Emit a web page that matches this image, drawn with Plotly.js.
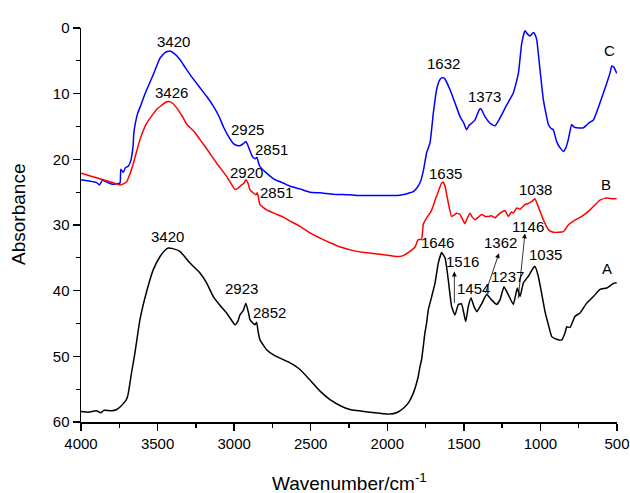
<!DOCTYPE html>
<html>
<head>
<meta charset="utf-8">
<script src="https://cdn.plot.ly/plotly-3.0.1.min.js"></script>
<style>html,body{margin:0;padding:0;background:#fff;}#chart{width:630px;height:493px;}</style>
</head>
<body>
<div id="chart"></div>
<script>
// Sample C (blue)
const wnC = [4000,3950,3900,3880,3860,3820,3790,3760,3745,3740,3725,3710,3690,3675,3660,3655,3645,3630,3610,3590,3571,3530,3484,3450,3420,3390,3354,3320,3288,3223,3180,3136,3100,3071,3040,3005,2980,2960,2940,2925,2915,2900,2880,2862,2851,2840,2831,2788,2740,2681,2635,2570,2505,2439,2354,2250,2200,2113,2000,1939,1900,1852,1830,1808,1785,1765,1743,1721,1699,1678,1660,1645,1632,1623,1590,1558,1525,1500,1482,1465,1449,1427,1410,1395,1385,1362,1329,1297,1264,1220,1177,1144,1122,1101,1085,1068,1046,1035,1024,1003,981,948,930,916,894,870,850,835,818,796,780,763,719,700,686,654,611,567,545,535,520,513,502];
const absC = [23.1,23.3,23.5,23.9,23.2,23.6,23.8,23.7,23.6,21.5,22.0,21.3,21.0,20.2,18.0,16.0,14.5,13.0,11.8,10.5,9.4,7.2,4.6,3.7,3.5,3.9,4.8,6.0,7.1,9.1,10.4,11.9,13.4,15.0,16.4,17.6,17.9,17.9,17.6,17.3,17.6,18.5,19.6,19.9,19.7,20.6,21.1,22.1,23.0,23.6,24.1,24.5,25.0,25.1,25.3,25.4,25.5,25.5,25.5,25.5,25.4,25.1,24.9,24.4,23.5,21.8,19.0,17.5,12.9,9.4,8.0,7.6,7.6,7.8,9.4,11.4,13.5,14.5,15.5,14.8,14.5,14.0,13.0,12.3,12.4,13.5,14.5,14.9,13.7,11.7,9.9,6.9,2.3,0.4,0.9,1.2,0.7,1.0,1.8,6.3,10.9,14.7,15.3,15.5,17.3,18.3,18.8,18.3,17.0,14.7,15.1,15.2,15.2,14.8,14.5,14.0,11.4,8.4,6.8,5.8,6.0,6.3,6.9];

// Sample B (red)
const wnB = [4000,3900,3800,3745,3720,3702,3680,3658,3615,3571,3506,3447,3426,3400,3374,3340,3308,3260,3223,3170,3114,3049,3020,2994,2970,2951,2935,2923,2910,2897,2870,2858,2849,2840,2831,2788,2730,2679,2635,2570,2505,2439,2374,2300,2222,2150,2069,2000,1939,1900,1852,1820,1797,1776,1765,1743,1721,1710,1678,1645,1635,1623,1602,1580,1560,1547,1525,1493,1475,1460,1445,1427,1405,1384,1360,1340,1320,1297,1264,1231,1210,1190,1177,1155,1133,1101,1068,1050,1036,1014,981,948,916,880,850,818,785,730,676,611,567,530,502];
const absB = [22.1,22.8,23.5,23.9,23.7,23.4,22.2,20.6,17.0,14.5,12.4,11.3,11.2,11.5,12.2,13.4,14.7,15.8,17.0,18.7,20.6,22.6,23.7,24.6,24.3,23.9,23.6,23.1,23.6,24.6,25.2,25.4,25.1,26.0,26.9,27.7,28.3,28.8,29.4,30.2,31.2,32.0,32.7,33.4,33.9,34.2,34.4,34.6,34.8,34.7,34.0,33.4,32.2,32.2,29.9,28.9,28.2,27.7,25.6,23.6,23.5,24.1,26.6,28.7,28.4,28.2,28.4,29.8,28.8,28.2,28.8,29.2,28.8,28.4,28.7,28.7,28.6,28.9,28.2,27.8,28.7,28.0,28.2,27.4,27.6,26.9,26.6,26.3,26.0,27.2,29.2,30.7,31.1,31.1,31.0,30.0,29.4,28.7,27.7,26.2,25.9,26.0,26.0];

// Sample A (black)
const wnA = [4000,3950,3900,3870,3850,3800,3767,3740,3713,3700,3691,3670,3648,3615,3571,3528,3484,3450,3430,3400,3354,3288,3223,3180,3136,3090,3049,3020,2994,2975,2962,2940,2923,2905,2897,2875,2864,2853,2843,2831,2788,2735,2679,2635,2570,2505,2439,2374,2300,2243,2113,1982,1940,1895,1860,1830,1800,1786,1776,1754,1743,1732,1710,1688,1667,1645,1623,1602,1580,1558,1536,1515,1488,1471,1453,1434,1415,1384,1351,1319,1286,1264,1238,1210,1177,1151,1133,1111,1079,1046,1036,1014,992,970,948,926,894,861,839,828,807,774,741,698,654,611,567,524,502];
const absA = [58.4,58.5,58.3,58.6,58.2,58.3,58.1,57.6,56.9,56.4,55.6,52.5,49.5,44.4,40.1,36.8,34.8,33.8,33.5,33.6,34.0,35.8,37.3,38.8,40.9,42.3,43.4,44.4,45.2,44.6,43.7,43.0,41.9,43.5,44.4,45.0,45.2,44.8,46.3,47.5,49.0,49.9,50.5,51.0,52.0,53.6,55.3,56.6,57.6,58.1,58.5,58.8,58.6,57.9,57.0,55.6,53.3,51.5,50.5,46.4,44.9,42.9,40.9,38.8,35.8,34.2,35.0,38.3,42.4,43.7,42.1,42.0,44.7,42.4,41.1,42.4,43.2,42.0,40.6,41.4,42.1,41.4,39.4,40.6,42.1,39.6,40.9,38.8,37.8,36.5,36.3,37.8,40.4,43.2,45.2,47.0,47.4,47.5,46.4,45.5,45.6,43.9,43.4,41.9,40.9,39.8,39.6,38.9,38.8];

// Peak labels: text, x (wavenumber), y (absorbance)
const labelText = ['3420','3426','2925','2851','2920','2851','3420','2923','2852','1632','1373','1041','C','1635','1038','B','1646','1516','1454','1362','1237','1146','1035','A'];
const labelX = [3399,3406,2910,2759,2919,2723,3432,2949,2766,1633,1362,1084,552,1623,1029,572,1675,1506,1440,1264,1212,1081,970,565];
const labelY = [2.1,9.85,15.5,18.5,22.0,25.1,31.8,39.7,43.3,5.4,10.5,-1.26,3.46,22.2,24.6,23.9,32.7,35.6,39.7,32.7,37.9,30.3,34.5,36.6];

// Arrows: tail (x0,y0) -> head (x1,y1)
const arrowX0 = [1562,1362,1146];
const arrowY0 = [42.1,40.6,41.4];
const arrowX1 = [1562,1271,1101];
const arrowY1 = [37.1,34.3,31.3];

const FONT = 'Liberation Sans, Arial, sans-serif';

const traces = [
  {x: wnC, y: absC, mode: 'lines', line: {color: '#0000ff', width: 1.5, shape: 'spline', smoothing: 0.4}, name: 'C'},
  {x: wnB, y: absB, mode: 'lines', line: {color: '#ff0000', width: 1.5, shape: 'spline', smoothing: 0.4}, name: 'B'},
  {x: wnA, y: absA, mode: 'lines', line: {color: '#000000', width: 1.5, shape: 'spline', smoothing: 0.4}, name: 'A'}
];

const annotations = [];
for (let i = 0; i < labelText.length; i++) {
  annotations.push({x: labelX[i], y: labelY[i], xref: 'x', yref: 'y', text: labelText[i],
    showarrow: false, xanchor: 'center', yanchor: 'middle', font: {family: FONT, size: 15, color: '#000'}});
}
for (let i = 0; i < arrowX0.length; i++) {
  annotations.push({x: arrowX1[i], y: arrowY1[i], ax: arrowX0[i], ay: arrowY0[i], xref: 'x', yref: 'y',
    axref: 'x', ayref: 'y', text: '', showarrow: true, arrowhead: 2, arrowsize: 1.2, arrowwidth: 0.8,
    arrowcolor: '#000', standoff: 0, startstandoff: 0});
}
annotations.push({xref: 'paper', yref: 'paper', x: 0.5, y: -0.152, text: 'Wavenumber/cm<sup>-1</sup>',
  showarrow: false, xanchor: 'center', yanchor: 'middle', font: {family: FONT, size: 19, color: '#000'}});
annotations.push({xref: 'paper', yref: 'paper', x: -0.1157, y: 0.528, text: 'Absorbance', textangle: -90,
  showarrow: false, xanchor: 'center', yanchor: 'middle', font: {family: FONT, size: 19, color: '#000'}});

const layout = {
  width: 630, height: 493,
  margin: {l: 81, r: 13, t: 28, b: 71},
  paper_bgcolor: '#fff', plot_bgcolor: '#fff',
  showlegend: false,
  font: {family: FONT, size: 15, color: '#000'},
  xaxis: {range: [4000, 500], tickmode: 'linear', tick0: 500, dtick: 500, ticks: 'outside', ticklen: 7,
    tickwidth: 1.3, tickcolor: '#000', showline: true, linecolor: '#000', linewidth: 1.5, showgrid: false,
    zeroline: false, tickfont: {family: FONT, size: 15, color: '#000'},
    minor: {dtick: 250, tick0: 0, ticks: 'outside', ticklen: 4, tickwidth: 1.3, tickcolor: '#000', showgrid: false}},
  yaxis: {range: [60, 0], tickmode: 'linear', tick0: 0, dtick: 10, ticks: 'outside', ticklen: 7,
    tickwidth: 1.3, tickcolor: '#000', showline: true, linecolor: '#000', linewidth: 1.5, showgrid: false,
    zeroline: false, tickfont: {family: FONT, size: 15, color: '#000'},
    minor: {dtick: 5, tick0: 0, ticks: 'outside', ticklen: 4, tickwidth: 1.3, tickcolor: '#000', showgrid: false}},
  annotations: annotations
};

Plotly.newPlot('chart', traces, layout, {displayModeBar: false, staticPlot: true});
</script>
</body>
</html>
